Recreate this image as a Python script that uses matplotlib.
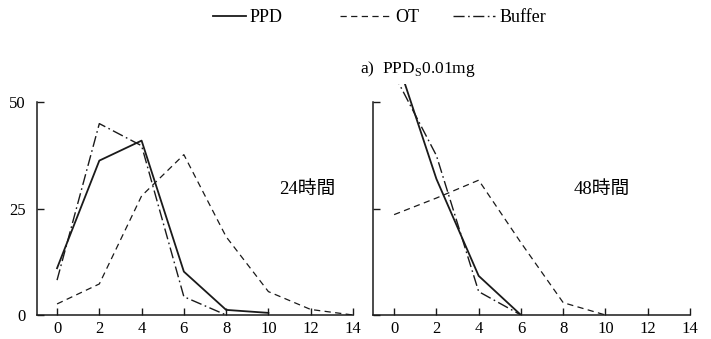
import matplotlib
matplotlib.use("Agg")
import matplotlib.pyplot as plt

plt.rcParams['font.family'] = ['Liberation Serif', 'Noto Sans CJK JP']
plt.rcParams['mathtext.fontset'] = 'custom'
plt.rcParams['mathtext.rm'] = 'Liberation Serif'

# datos
x = [0, 2, 4, 6, 8, 10, 12, 14]

# 24 horas
ppd_24 = [11.0, 36.3, 41.0, 10.2, 1.2, 0.5]
ot_24 = [2.6, 7.3, 28.0, 37.7, 18.4, 5.5, 1.3, 0.0]
buf_24 = [8.2, 45.0, 39.8, 4.3, 0.0]

# 48 horas
ppd_48 = [62.0, 32.0, 9.2, 0.0]
ot_48 = [23.6, 27.5, 31.7, 17.0, 2.9, 0.0]
buf_48 = [56.6, 37.5, 5.5, 0.0]

xticks = [0, 2, 4, 6, 8, 10, 12, 14]
yticks = [0, 25, 50]
nomes = ['PPD', 'OT', 'Buffer']

cor = '#1a1a1a'
estilo_ppd = dict(color=cor, lw=1.3, ls='-')
estilo_ot = dict(color=cor, lw=0.9, ls=(0, (5, 3.5)))
estilo_buf = dict(color=cor, lw=1.0, ls=(0, (8, 2.5, 1.2, 2.5)))

fig = plt.figure(figsize=(7.11, 3.39), dpi=100)
ax1 = fig.add_axes([0.052, 0.0708, 0.4444, 0.680])
ax2 = fig.add_axes([0.5246, 0.0708, 0.4459, 0.680])

ax1.plot(x[:len(ppd_24)], ppd_24, **estilo_ppd)
ax1.plot(x[:len(ot_24)], ot_24, **estilo_ot)
ax1.plot(x[:len(buf_24)], buf_24, **estilo_buf)

ax2.plot(x[:len(ppd_48)], ppd_48, **estilo_ppd)
ax2.plot(x[:len(ot_48)], ot_48, **estilo_ot)
ax2.plot(x[:len(buf_48)], buf_48, **estilo_buf)

for ax, x0 in [(ax1, -0.95), (ax2, -1.0)]:
    ax.set_xlim(x0, 14)
    ax.set_ylim(0, 54.2)
    ax.spines['top'].set_visible(False)
    ax.spines['right'].set_visible(False)
    ax.spines['left'].set_bounds(0, 50)
    ax.set_xticks(xticks)
    ax.set_yticks(yticks)
    ax.tick_params(direction='in', length=5, width=1, labelsize=12, color=cor)
    ax.tick_params(axis='x', pad=4)
    ax.tick_params(axis='y', pad=8)
    for s in ax.spines.values():
        s.set_linewidth(1.1)
        s.set_color(cor)

ax2.set_yticklabels([])

ax1.text(10.5, 29.4, '24時間', fontsize=13.5, va='center', ha='left')
ax2.text(8.47, 29.4, '48時間', fontsize=13.5, va='center', ha='left')

fig.text(0.588, 0.795, r'a)  PPD$_{\rm S}$0.01mg', fontsize=12.5, ha='center', va='center')

# legenda: uma por serie, para acertar o comprimento de cada traco
estilos = [estilo_ppd, estilo_ot, estilo_buf]
inicio = [213 / 711, 340 / 711, 453 / 711]
comprimento = [1.8, 2.8, 2.35]
for est, nome, x_leg, hl in zip(estilos, nomes, inicio, comprimento):
    fig.legend([plt.Line2D([], [], **est)], [nome], loc='center left',
               bbox_to_anchor=(x_leg, 0.947), frameon=False, fontsize=13,
               handlelength=hl, handletextpad=0.25, borderpad=0, borderaxespad=0)

fig.savefig('out.png', dpi=100)
